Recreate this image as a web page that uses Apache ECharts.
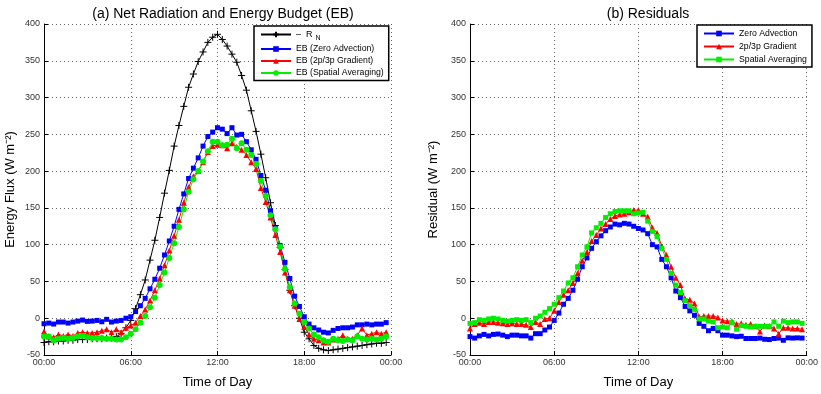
<!DOCTYPE html>
<html><head><meta charset="utf-8">
<script src="https://cdn.jsdelivr.net/npm/echarts@6/dist/echarts.min.js"></script>
<style>html,body{margin:0;padding:0;background:#fff}#c{width:821px;height:394px}</style>
</head><body><div id="c"></div>
<script>
// time of each sample, minutes after midnight (20-minute steps)
const times = Array.from({length: 72}, (_, i) => i * 20);
const xTicks = ['00:00', '06:00', '12:00', '18:00', '00:00'];

// (a) Net radiation and energy budget
const negRN = [-33,-32,-32,-31,-31,-30,-30,-29,-29,-29,-28,-28,-28,-27,-27,-25,-21,-13,-3,13,32,52,79,106,137,170,201,234,262,288,314,332,349,362,375,382,386,379,370,359,348,330,310,282,254,223,191,157,126,96,66,38,17,0,-19,-28,-37,-41,-43,-44,-43,-42,-41,-40,-39,-38,-37,-36,-35,-34,-34,-33];
const ebZero = [-7.5,-6.6,-7.9,-5.2,-5.2,-6.6,-5.2,-3.9,-2.5,-4.3,-3.9,-3,-4.8,-1.5,-5.2,-3.9,-3,0,2,9,17,27,40,53,68,86,105,125,148,169,190,204,218,234,247,253,259,257,251,259,249,250,240,229,216,194,174,146,122,99,76,54,30,16,2,-8,-13,-16,-19,-20,-16.5,-14,-13,-13,-12,-9,-9,-8,-9,-8,-8,-6];
const ebGrad = [-18,-25,-26,-22,-24,-22,-24,-20,-19,-20,-20,-19,-17,-15,-19,-15,-19,-13,-10,-6,3,12,24,38,54,72,92,112,134,157,178,193,200,212,226,234,236,235,231,238,233,229,222,212,203,177,158,137,113,90,62,38,17,-1,-12,-22,-28,-30,-33,-33,-29,-28,-23,-28,-28,-23,-14,-23,-21,-19,-21,-19];
const ebSpat = [-25,-25,-30,-28,-27,-28,-27,-25,-24,-26,-27,-27,-27,-28,-28,-29,-29,-26,-21,-15,-6,3,15,28,45,62,82,102,124,148,172,189,200,213,227,240,240,235,236,244,231,238,229,222,210,187,166,140,121,97,67,42,20,6,-5,-14,-22,-26,-30,-32,-28,-30,-31,-29,-30,-25,-28,-29,-28,-29,-28,-25];

// (b) Residuals
const resZero = [-25,-27,-24,-22,-24,-22,-21.5,-23,-25,-23,-23,-24,-24,-27,-21,-21,-16,-12,-3,7,19,27,38,53,70,82,95,104,112,119,124,128,127,129,128,125,122,120,115,100,97,80,70,55,37,28,16,10,4,-7,-11,-17,-14,-17,-23,-23,-24,-25,-24.5,-27.6,-27.6,-27.6,-27,-28.6,-29,-27.6,-27,-30,-26.7,-27,-26.7,-27];
const resGrad = [-14,-8,-6,-8,-5,-5,-6,-7,-8,-7,-8,-8,-9,-12,-5,-8,-1,0,10,22,32,38,48,61,78,90,105,113,122,128,135,139,141,142,144,147,147,142,138,123,116,98,86,70,55,45,26,25,20,2,3,3,3,1,-3,-4,-4,-8,-7,-9,-8,-11,-18,-10,-11,-14,-21,-13,-13,-14,-14,-15];
const resSpat = [-7,-6,-2,-3,-1,0,-1,-3,-4,-3,-2,-3,-2,-6,0,3,8,13,19,28,37,48,55,70,86,97,116,123,129,137,142,145,146,146,146,142,143,144,132,118,111,95,80,61,45,35,24,17,12,-1,-1,-4,-5,-13,-12,-13,-6,-15,-10,-11,-12,-11,-11,-11,-11,-5,-11,-4,-6,-5,-5,-7];

const pair = arr => arr.map((v, i) => [times[i], v]);
const FONT = 'Liberation Sans, Arial, Helvetica, sans-serif';

function xAxis(gi) {
  return {
    type: 'value', gridIndex: gi, min: 0, max: 1440, interval: 360,
    name: 'Time of Day', nameLocation: 'middle', nameGap: 21,
    nameTextStyle: {fontSize: 13, color: '#000', fontFamily: FONT},
    axisLine: {onZero: false, lineStyle: {color: '#000', width: 1}},
    axisTick: {inside: true, length: 4, lineStyle: {color: '#000'}},
    axisLabel: {formatter: v => xTicks[Math.round(v / 360)], fontSize: 9, color: '#333', margin: 3, fontFamily: FONT},
    splitLine: {show: true, lineStyle: {type: [1, 3], color: '#666', width: 1}}
  };
}
function yAxis(gi, name, gap) {
  return {
    type: 'value', gridIndex: gi, min: -50, max: 400, interval: 50,
    name: name, nameLocation: 'middle', nameGap: gap, nameRotate: 90,
    nameTextStyle: {fontSize: 13, color: '#000', fontFamily: FONT},
    axisLine: {show: true, lineStyle: {color: '#000', width: 1}},
    axisTick: {inside: true, length: 4, lineStyle: {color: '#000'}},
    axisLabel: {fontSize: 9, color: '#333', margin: 4, fontFamily: FONT},
    splitLine: {show: true, lineStyle: {type: [1, 3], color: '#666', width: 1}}
  };
}
function line(name, data, color, symbol, size, gi, extra) {
  return Object.assign({
    name: name, type: 'line', xAxisIndex: gi, yAxisIndex: gi, data: pair(data),
    symbol: symbol, symbolSize: size, showSymbol: true,
    lineStyle: {color: color, width: 1}, itemStyle: {color: color},
    emphasis: {disabled: true}, animation: false
  }, extra || {});
}
const plusPath = 'path://M0,5L10,5M5,0L5,10';

const chart = echarts.init(document.getElementById('c'));
chart.setOption({
  animation: false,
  textStyle: {fontFamily: FONT},
  title: [
    {text: '(a) Net Radiation and Energy Budget (EB)', left: 218, top: 2, textAlign: 'center',
     textStyle: {fontSize: 14, fontWeight: 'normal', color: '#000', fontFamily: FONT}},
    {text: '(b) Residuals', left: 643, top: 2, textAlign: 'center',
     textStyle: {fontSize: 14, fontWeight: 'normal', color: '#000', fontFamily: FONT}}
  ],
  grid: [
    {left: 44, right: 430, top: 24, bottom: 34},
    {left: 470, right: 6, top: 24, bottom: 34}
  ],
  xAxis: [xAxis(0), xAxis(1)],
  yAxis: [yAxis(0, 'Energy Flux (W m⁻²)', 27), yAxis(1, 'Residual (W m⁻²)', 30)],
  legend: [
    {data: ['-RN', 'EB (Zero Advection)', 'EB (2p/3p Gradient)', 'EB (Spatial Averaging)'],
     orient: 'vertical', left: 254, top: 26, itemWidth: 30, itemHeight: 7, itemGap: 3,
     padding: [4, 5, 3, 6], borderColor: '#000', borderWidth: 1.5, backgroundColor: '#fff',
     textStyle: {fontSize: 8.7, color: '#000', fontFamily: FONT,
       rich: {a: {fontSize: 9, fontFamily: FONT}, s: {fontSize: 7, padding: [7, 0, 0, 3], fontFamily: FONT}}},
     formatter: n => n === '-RN' ? '{a|–  R}{s|N}' : n, selectedMode: false},
    {data: ['Zero Advection', '2p/3p Gradient', 'Spatial Averaging'],
     orient: 'vertical', left: 697, top: 25, itemWidth: 30, itemHeight: 7, itemGap: 4,
     padding: [4, 5, 3, 6], borderColor: '#000', borderWidth: 1.5, backgroundColor: '#fff',
     textStyle: {fontSize: 8.7, color: '#000', fontFamily: FONT}, selectedMode: false}
  ],
  series: [
    line('-RN', negRN, '#000', plusPath, 7, 0, {itemStyle: {color: '#000', borderColor: '#000', borderWidth: 1}}),
    line('EB (Zero Advection)', ebZero, '#0000ff', 'rect', 5, 0),
    line('EB (2p/3p Gradient)', ebGrad, '#ff0000', 'triangle', 6, 0),
    line('EB (Spatial Averaging)', ebSpat, '#00ee00', 'circle', 6, 0),
    line('Zero Advection', resZero, '#0000ff', 'rect', 5, 1),
    line('2p/3p Gradient', resGrad, '#ff0000', 'triangle', 6, 1),
    line('Spatial Averaging', resSpat, '#00ee00', 'rect', 5, 1)
  ]
});
</script></body></html>
